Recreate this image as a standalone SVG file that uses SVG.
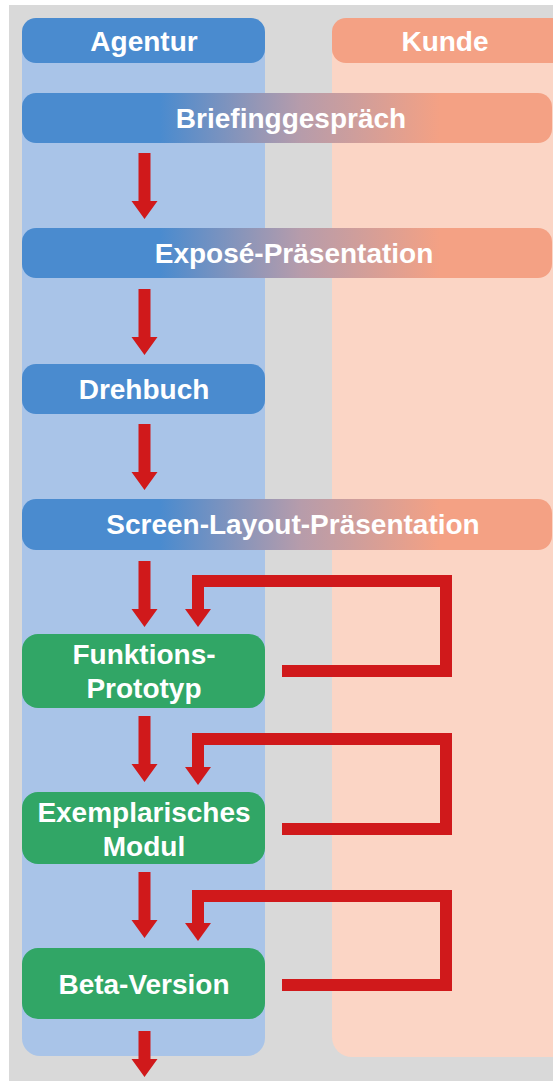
<svg xmlns="http://www.w3.org/2000/svg" width="553" height="1081" viewBox="0 0 553 1081">
  <style>
    .lbl { font-family: "Liberation Sans", Arial, Helvetica, sans-serif; font-weight: bold; font-size: 28px; fill: #ffffff; text-anchor: middle; }
    .agency { fill: #4a8bcf; }
    .client { fill: #f4a184; }
    .proto { fill: #31a666; }
    .arrow { fill: #d0191b; }
    .loop { fill: none; stroke: #d0191b; stroke-width: 12; stroke-linejoin: miter; }
  </style>
  <defs>
    <linearGradient id="bridge" gradientUnits="userSpaceOnUse" x1="160" y1="0" x2="440" y2="0">
      <stop offset="0" stop-color="#4a8bcf"/>
      <stop offset="0.5" stop-color="#b69cab"/>
      <stop offset="1" stop-color="#f4a184"/>
    </linearGradient>
    <!-- downward block arrow, tip at origin -->
    <path id="down" d="M-6,-66 H6 V-18 H13 L0,0 L-13,-18 H-6 Z"/>
    <path id="downShort" d="M-6,-46 H6 V-18 H13 L0,0 L-13,-18 H-6 Z"/>
  </defs>

  <!-- page background -->
  <rect x="0" y="0" width="553" height="1081" fill="#ffffff"/>
  <rect x="9" y="5" width="544" height="1076" fill="#d9d9d9"/>

  <!-- swimlanes -->
  <g id="lane-agentur">
    <rect x="22" y="18" width="243" height="1038" rx="18" fill="#a9c4e8"/>
    <rect class="agency" x="22" y="18" width="243" height="45" rx="14"/>
    <text class="lbl" x="144" y="51">Agentur</text>
  </g>
  <g id="lane-kunde">
    <rect x="332" y="18" width="240" height="1039" rx="20" fill="#fbd5c5"/>
    <rect class="client" x="332" y="18" width="240" height="45" rx="14"/>
    <text class="lbl" x="445" y="51">Kunde</text>
  </g>

  <!-- connectors -->
  <g id="connectors">
    <use href="#down" class="arrow" x="144.5" y="219"/>
    <use href="#down" class="arrow" x="144.5" y="355"/>
    <use href="#down" class="arrow" x="144.5" y="490"/>
    <use href="#down" class="arrow" x="144.5" y="627"/>
    <use href="#down" class="arrow" x="144.5" y="782"/>
    <use href="#down" class="arrow" x="144.5" y="938"/>
    <use href="#downShort" class="arrow" x="144.5" y="1077"/>

    <!-- review loops back from the client -->
    <polyline class="loop" points="282,671 446,671 446,581 198,581 198,610"/>
    <path class="arrow" d="M185,609 H211 L198,627 Z"/>
    <polyline class="loop" points="282,829 446,829 446,739 198,739 198,768"/>
    <path class="arrow" d="M185,767 H211 L198,785 Z"/>
    <polyline class="loop" points="282,985 446,985 446,896 198,896 198,924"/>
    <path class="arrow" d="M185,923 H211 L198,941 Z"/>
  </g>

  <g id="briefing">
    <rect x="22" y="93" width="530" height="50" rx="14" fill="url(#bridge)"/>
    <text class="lbl" x="291" y="128">Briefinggespräch</text>
  </g>
  <g id="expose">
    <rect x="22" y="228" width="530" height="50" rx="14" fill="url(#bridge)"/>
    <text class="lbl" x="294" y="263">Exposé-Präsentation</text>
  </g>
  <g id="drehbuch">
    <rect class="agency" x="22" y="364" width="243" height="50" rx="14"/>
    <text class="lbl" x="144" y="399">Drehbuch</text>
  </g>
  <g id="screen-layout">
    <rect x="22" y="499" width="530" height="51" rx="14" fill="url(#bridge)"/>
    <text class="lbl" x="293" y="534">Screen-Layout-Präsentation</text>
  </g>
  <g id="funktions-prototyp">
    <rect class="proto" x="22" y="634" width="243" height="74" rx="16"/>
    <text class="lbl" x="144" y="664">Funktions-</text>
    <text class="lbl" x="144" y="698">Prototyp</text>
  </g>
  <g id="exemplarisches-modul">
    <rect class="proto" x="22" y="792" width="243" height="72" rx="16"/>
    <text class="lbl" x="144" y="822">Exemplarisches</text>
    <text class="lbl" x="144" y="856">Modul</text>
  </g>
  <g id="beta-version">
    <rect class="proto" x="22" y="948" width="243" height="71" rx="16"/>
    <text class="lbl" x="144" y="994">Beta-Version</text>
  </g>
</svg>
